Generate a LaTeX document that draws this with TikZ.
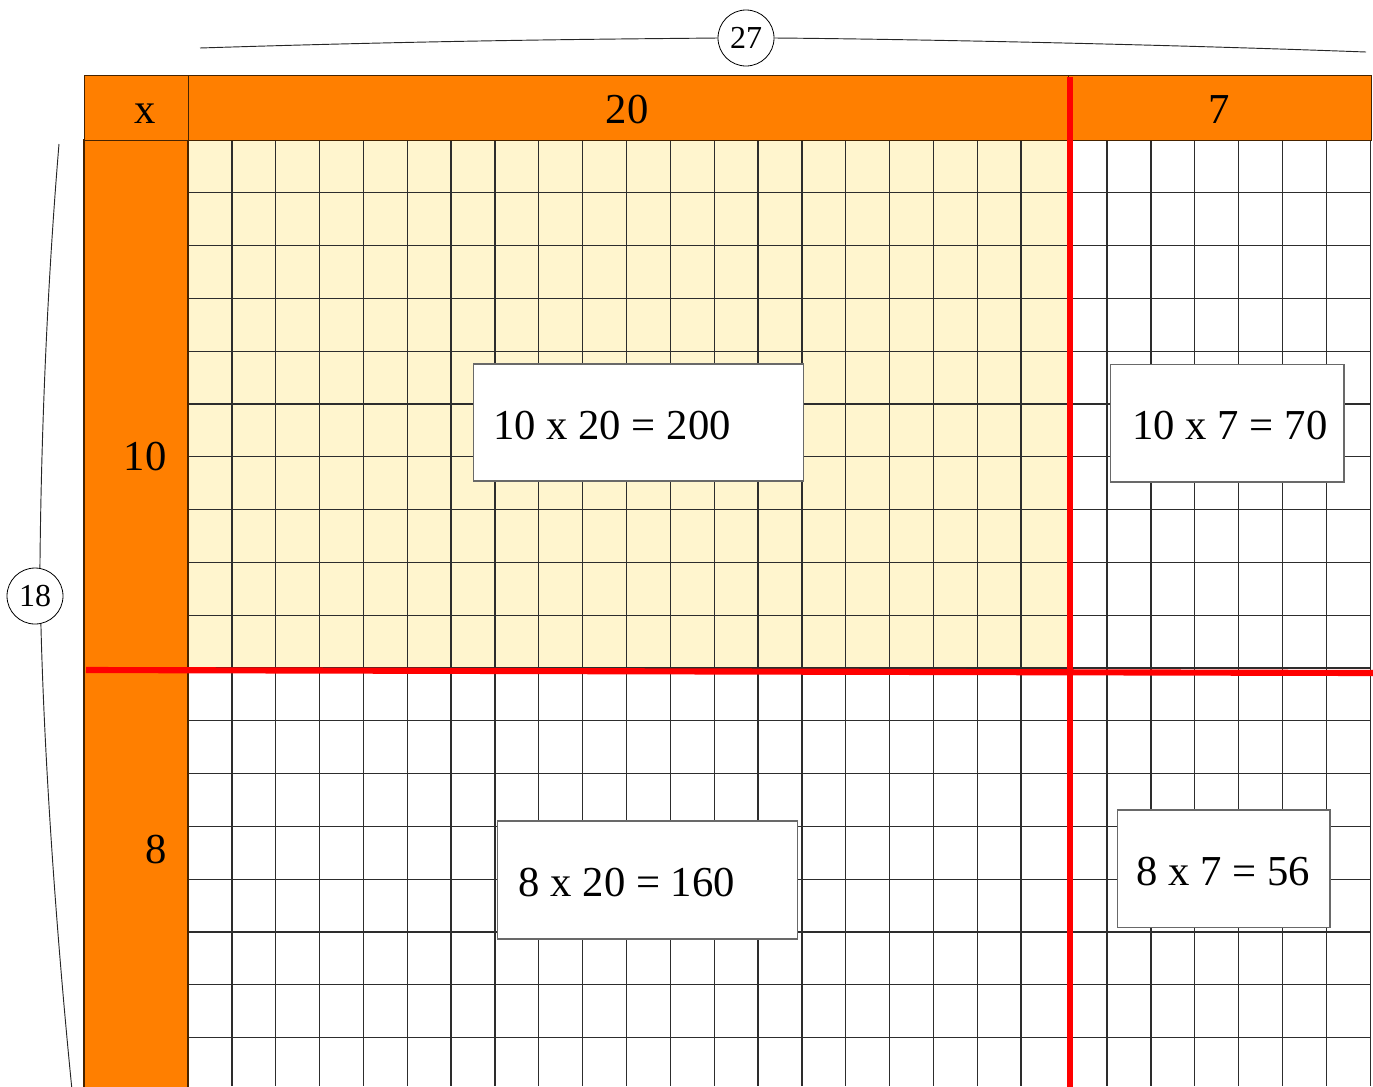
\documentclass[tikz,border=0pt]{standalone}
\usepackage{fontspec}
\setmainfont{Liberation Serif}
\definecolor{hdrorange}{RGB}{255,127,0}
\definecolor{hdrline}{RGB}{70,35,0}
\definecolor{paleyellow}{RGB}{255,245,206}
\definecolor{gridgray}{RGB}{45,45,45}
\definecolor{boxgray}{RGB}{105,105,105}
\begin{document}
\begin{tikzpicture}[x=0.75pt,y=-0.75pt,
  gridline/.style={draw=gridgray,line width=1pt},
  orangecell/.style={fill=hdrorange,draw=hdrline,line width=1.1pt,rectangle,inner sep=0pt},
  redline/.style={draw=red,line width=4.6pt},
  calcbox/.style={draw=boxgray,line width=0.9pt,fill=white,rectangle,inner sep=0pt},
  bigtext/.style={font=\fontsize{32}{38}\selectfont,inner sep=0pt},
  countcircle/.style={circle,draw=black,line width=0.6pt,minimum size=42pt,inner sep=0pt,font=\fontsize{24}{28}\selectfont,fill=white},
  bracecurve/.style={draw=black!85,line width=0.7pt}
]
\useasboundingbox (0,0) rectangle (1373,1086);
% pale yellow region
\fill[paleyellow] (188,140) rectangle (1068,668);
% grid
\foreach \k in {1,...,19} \draw[gridline] ({188+43.85*\k},140) -- ({188+43.85*\k},1086);
\foreach \k in {0,...,6} \draw[gridline] ({1107+43.9*\k},140) -- ({1107+43.9*\k},1086);
\foreach \k in {1,...,17} \draw[gridline] (188,{140+52.8*\k}) -- (1371,{140+52.8*\k});
% left orange column
\path[orangecell] (84,140) rectangle (188,1092);
\node[bigtext] (lab10) at (145,457) {10};
\node[bigtext] (lab8) at (156,850) {8};
% header row
\node[orangecell,minimum width=78pt,minimum height=48.75pt,anchor=north west] (hx) at (84,75) {};
\node[orangecell,minimum width=660pt,minimum height=48.75pt,anchor=north west] (h20) at (188,75) {};
\node[orangecell,minimum width=227.25pt,minimum height=48.75pt,anchor=north west] (h7) at (1068,75) {};
\node[bigtext,anchor=base] (tx) at (145,123) {x};
\node[bigtext,anchor=base] (t20) at (627,123) {20};
\node[bigtext,anchor=base] (t7) at (1219,123) {7};
% red split lines
\draw[redline] (86,670) -- (1373,673);
\draw[redline] (1070,77) -- (1070,1090);
% calculation boxes
\node[calcbox,minimum width=247.5pt,minimum height=87.75pt] (b1) at (638.3,422.5) {};
\node[calcbox,minimum width=175pt,minimum height=88pt] (b2) at (1227.3,423.3) {};
\node[calcbox,minimum width=225pt,minimum height=88.5pt] (b3) at (647.7,880) {};
\node[calcbox,minimum width=159.2pt,minimum height=88.3pt] (b4) at (1223.8,868.8) {};
\node[bigtext,anchor=base] (e1) at (612,439) {10 x 20 = 200};
\node[bigtext,anchor=base] (e2) at (1230,439) {10 x 7 = 70};
\node[bigtext,anchor=base] (e3) at (626.8,896) {8 x 20 = 160};
\node[bigtext,anchor=base] (e4) at (1223,885) {8 x 7 = 56};
% totals with curves
\node[countcircle] (c27) at (746,38) {27};
\node[countcircle] (c18) at (35,596) {18};
\coordinate (topL) at (200,48);
\coordinate (topR) at (1366,52);
\coordinate (leftT) at (59,144);
\coordinate (leftB) at (72,1090);
\draw[bracecurve] (topL) .. controls (450,40) and (620,39) .. (c27.west);
\draw[bracecurve] (c27.east) .. controls (900,39) and (1150,44) .. (topR);
\draw[bracecurve] (leftT) .. controls (46,300) and (41,450) .. (c18.80);
\draw[bracecurve] (c18.-78) .. controls (44,750) and (55,920) .. (leftB);
\end{tikzpicture}
\end{document}
